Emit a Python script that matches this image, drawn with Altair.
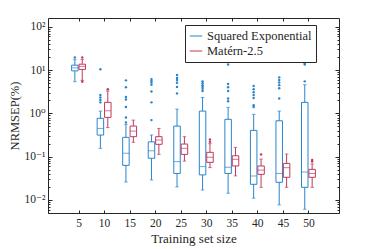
import altair as alt
import pandas as pd

sizes = [5, 10, 15, 20, 25, 30, 35, 40, 45, 50]
series = ["Squared Exponential", "Matérn-2.5"]

# Squared Exponential box statistics
se_lo = [5.4, 0.156, 0.026, 0.029, 0.020, 0.017, 0.0143, 0.011, 0.0077, 0.0061]
se_q1 = [9.6, 0.316, 0.063, 0.092, 0.041, 0.038, 0.041, 0.023, 0.0256, 0.0196]
se_med = [11.3, 0.45, 0.12, 0.137, 0.077, 0.059, 0.057, 0.0358, 0.041, 0.0443]
se_q3 = [13.0, 0.77, 0.28, 0.22, 0.51, 1.13, 0.73, 0.405, 0.675, 1.8]
se_hi = [17.5, 1.13, 0.56, 0.316, 1.26, 2.34, 1.38, 0.95, 1.13, 4.6]
se_out = [
    [19.5],
    [10.5, 2.65, 2.34, 2.03, 1.8],
    [5.8, 4.0, 2.4, 2.1, 1.4, 0.8, 0.62],
    [6.2, 5.7, 5.2, 4.6, 3.2, 1.8, 0.70],
    [7.7, 6.6, 5.9, 5.1, 4.1, 2.9],
    [5.5, 5.0, 4.5, 4.1, 3.7, 3.3],
    [13.5, 4.8, 4.0, 3.3, 2.2, 1.9],
    [4.3, 3.6, 3.1, 2.65, 2.26, 1.55, 1.4],
    [6.8, 5.9, 5.2, 4.5, 3.8, 2.2],
    [14.5, 13.5, 5.5],
]

# Matern-2.5 box statistics
mt_lo = [5.8, 0.47, 0.215, 0.113, 0.079, 0.056, 0.036, 0.0196, 0.0196, 0.0196]
mt_q1 = [10.4, 0.81, 0.29, 0.193, 0.113, 0.074, 0.061, 0.039, 0.0334, 0.0334]
mt_med = [12.2, 1.15, 0.39, 0.243, 0.156, 0.097, 0.087, 0.049, 0.0557, 0.041]
mt_q3 = [13.7, 1.8, 0.51, 0.29, 0.196, 0.126, 0.105, 0.061, 0.070, 0.051]
mt_hi = [17.5, 3.3, 0.70, 0.45, 0.29, 0.20, 0.164, 0.088, 0.115, 0.068]
mt_out = [[19.5, 5.4], [3.6], [], [], [], [0.25, 0.22], [], [0.113], [], [0.084, 0.077]]

major_ticks = [0.01, 0.1, 1, 10, 100]
minor_ticks = [0.005, 0.006, 0.007, 0.008, 0.009,
               0.02, 0.03, 0.04, 0.05, 0.06, 0.07, 0.08, 0.09,
               0.2, 0.3, 0.4, 0.5, 0.6, 0.7, 0.8, 0.9,
               2, 3, 4, 5, 6, 7, 8, 9,
               20, 30, 40, 50, 60, 70, 80, 90]

BLUE = "#2a86cc"
RED = "#c0395a"
INK = "#262626"
FONT = "'Liberation Serif', 'DejaVu Serif', serif"
W, H = 291, 195


def box_frame(name, lo, q1, med, q3, hi):
    return pd.DataFrame({"size": sizes, "series": name, "lo": lo, "q1": q1,
                         "med": med, "q3": q3, "hi": hi})


def out_frame(name, outs):
    rows = [{"size": s, "series": name, "value": v} for s, vals in zip(sizes, outs) for v in vals]
    return pd.DataFrame(rows, columns=["size", "series", "value"])


se_box = box_frame(series[0], se_lo, se_q1, se_med, se_q3, se_hi)
mt_box = box_frame(series[1], mt_lo, mt_q1, mt_med, mt_q3, mt_hi)
se_pts = out_frame(series[0], se_out)
mt_pts = out_frame(series[1], mt_out)

xscale = alt.Scale(domain=[0, 55], nice=False, zero=False)
yscale = alt.Scale(type="log", domain=[0.005, 160], nice=False)
cscale = alt.Scale(domain=series, range=[BLUE, RED])

label_expr = ("'10' + (datum.value > 50 ? '²' : datum.value > 5 ? '¹' : datum.value > 0.5 ? '⁰' "
              ": datum.value > 0.05 ? '⁻¹' : '⁻²')")

x_main = alt.Axis(values=sizes, title="Training set size", ticks=False, labelPadding=4,
                  titlePadding=4, labelFontSize=11.5, titleFontSize=13, labelAngle=0)
y_main = alt.Axis(values=major_ticks, labelExpr=label_expr, ticks=False, labelPadding=3,
                  title="NRMSEP(%)", titlePadding=2, labelFontSize=11.5, titleFontSize=12.5)
x_in_bottom = alt.Axis(orient="top", offset=-H, values=sizes, labels=False, tickSize=3, title=None)
x_in_top = alt.Axis(orient="bottom", offset=-H, values=sizes, labels=False, tickSize=3, title=None)
y_in_left = alt.Axis(orient="right", offset=-W, values=major_ticks, labels=False, tickSize=4, title=None)
y_in_right = alt.Axis(orient="left", offset=-W, values=major_ticks, labels=False, tickSize=4, title=None)
y_min_left = alt.Axis(orient="right", offset=-W, values=minor_ticks, labels=False, tickSize=2, title=None)
y_min_right = alt.Axis(orient="left", offset=-W, values=minor_ticks, labels=False, tickSize=2, title=None)

legend = alt.Legend(title=None, orient="none", legendX=137, legendY=7, symbolType="stroke",
                    symbolSize=156, symbolStrokeWidth=1, labelFont=FONT, labelFontSize=12.5,
                    labelColor=INK, strokeColor=INK, fillColor="white", padding=4,
                    labelOffset=4, rowPadding=1, cornerRadius=0)


def layers(box, pts, color, dx, axes, with_legend):
    xa_w, ya_w, xa_b, ya_b, xa_m, ya_m, ya_c, ya_o = axes
    whisk = alt.Chart(box).mark_rule(xOffset=dx, strokeWidth=1).encode(
        x=alt.X("size:Q", scale=xscale, axis=xa_w),
        y=alt.Y("lo:Q", scale=yscale, axis=ya_w),
        y2="hi:Q",
        color=alt.Color("series:N", scale=cscale, legend=legend if with_legend else None),
    )
    caps = alt.Chart(box).transform_fold(["lo", "hi"], as_=["k", "v"]).mark_tick(
        orient="horizontal", size=3.5, thickness=1, xOffset=dx, color=color).encode(
        x=alt.X("size:Q", scale=xscale, axis=None),
        y=alt.Y("v:Q", scale=yscale, axis=ya_c),
    )
    boxes = alt.Chart(box).mark_bar(width=6.5, fill="white", stroke=color, strokeWidth=1,
                                    xOffset=dx).encode(
        x=alt.X("size:Q", scale=xscale, axis=xa_b),
        y=alt.Y("q1:Q", scale=yscale, axis=ya_b),
        y2="q3:Q",
    )
    meds = alt.Chart(box).mark_tick(orient="horizontal", size=6.5, thickness=1, xOffset=dx,
                                    color=color).encode(
        x=alt.X("size:Q", scale=xscale, axis=xa_m),
        y=alt.Y("med:Q", scale=yscale, axis=ya_m),
    )
    outs = alt.Chart(pts).mark_circle(size=6, opacity=1, xOffset=dx, color=color).encode(
        x=alt.X("size:Q", scale=xscale, axis=None),
        y=alt.Y("value:Q", scale=yscale, axis=ya_o),
    )
    return [whisk, boxes, meds, caps, outs]


se_axes = (x_main, y_main, x_in_bottom, y_in_left, x_in_top, y_in_right, y_min_left, y_min_right)
no_axes = (None,) * 8

chart = alt.layer(
    *layers(se_box, se_pts, BLUE, -3.7, se_axes, True),
    *layers(mt_box, mt_pts, RED, 3.7, no_axes, False),
).resolve_axis(x="independent", y="independent").properties(
    width=W, height=H, autosize=alt.AutoSizeParams(type="none"),
    padding={"left": 40, "top": 10, "right": 27, "bottom": 36},
    background="white",
).configure_view(stroke=INK, strokeWidth=1).configure_axis(
    grid=False, domain=False, labelFont=FONT, titleFont=FONT, labelColor=INK,
    titleColor=INK, tickColor=INK, titleFontWeight="normal",
)

chart.save("out.html", embed_options={"renderer": "svg", "actions": False})
